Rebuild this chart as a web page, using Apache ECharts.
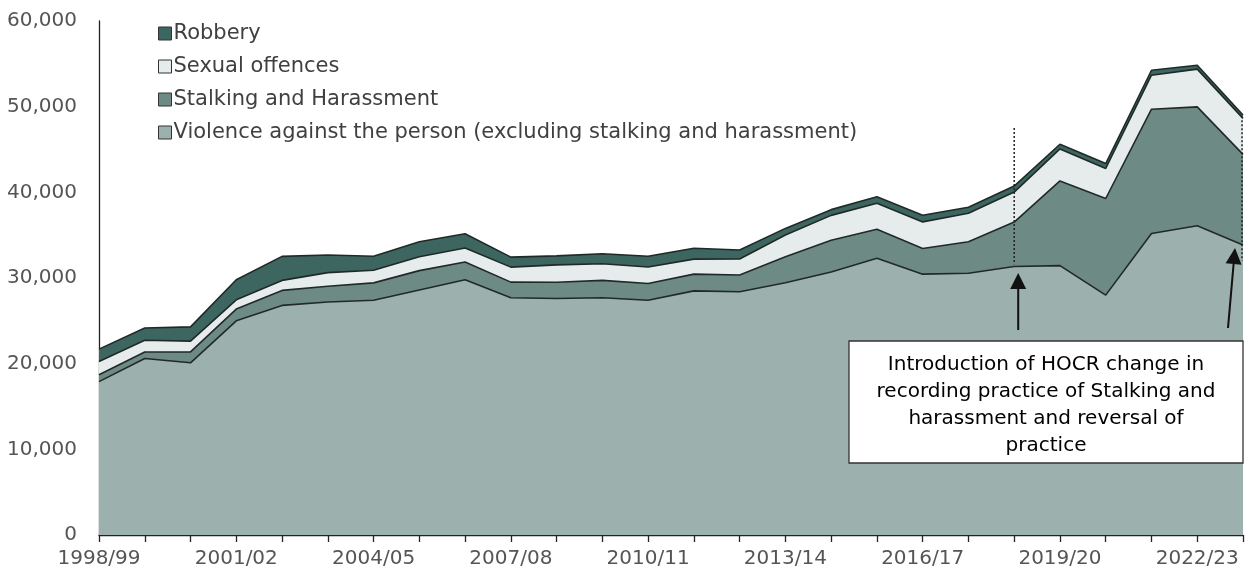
<!DOCTYPE html>
<html>
<head>
<meta charset="utf-8">
<script src="https://cdn.jsdelivr.net/npm/echarts@6/dist/echarts.min.js"></script>
<style>
html,body{margin:0;padding:0;background:#fff;}
#main{width:1249px;height:576px;}
</style>
</head>
<body>
<div id="main"></div>
<script>
var categories = ['1998/99','1999/00','2000/01','2001/02','2002/03','2003/04','2004/05','2005/06','2006/07','2007/08','2008/09','2009/10','2010/11','2011/12','2012/13','2013/14','2014/15','2015/16','2016/17','2017/18','2018/19','2019/20','2020/21','2021/22','2022/23','2023/24'];
var violence = [17900, 20600, 20100, 25000, 26800, 27200, 27400, 28600, 29800, 27700, 27600, 27700, 27400, 28500, 28400, 29450, 30700, 32300, 30450, 30550, 31350, 31450, 28000, 35200, 36100, 33850];
var stalking = [800, 770, 1280, 1370, 1750, 1830, 2030, 2260, 2060, 1820, 1910, 2020, 1950, 1950, 1950, 3030, 3700, 3390, 3000, 3690, 5180, 9880, 11280, 14500, 13880, 10580];
var sexual = [1550, 1370, 1250, 1080, 1170, 1600, 1480, 1630, 1640, 1750, 2020, 1950, 1940, 1750, 1870, 2530, 2910, 3030, 3100, 3310, 3500, 3740, 3500, 3970, 4400, 4200];
var robbery = [1450, 1430, 1670, 2340, 2800, 2050, 1630, 1750, 1670, 1170, 1050, 1160, 1250, 1280, 1050, 780, 670, 770, 780, 700, 700, 540, 580, 580, 450, 390];
var yTicks = [0, 10000, 20000, 30000, 40000, 50000, 60000];
var seriesNames = ['Violence against the person (excluding stalking and harassment)', 'Stalking and Harassment', 'Sexual offences', 'Robbery'];
var legendOrder = ['Robbery', 'Sexual offences', 'Stalking and Harassment', 'Violence against the person (excluding stalking and harassment)'];
var noteText = 'Introduction of HOCR change in\nrecording practice of Stalking and\nharassment and reversal of\npractice';

var colors = ['#9cb0ae', '#6e8a85', '#e6ecec', '#3e6660'];
var FONT = '"DejaVu Sans", "Liberation Sans", Arial, sans-serif';

var chart = echarts.init(document.getElementById('main'), null, {renderer: 'canvas'});

function mkSeries(name, data, color) {
  return {
    name: name,
    type: 'line',
    stack: 'total',
    data: data,
    symbol: 'none',
    smooth: false,
    lineStyle: {color: '#1f2a28', width: 1.6},
    areaStyle: {color: color, opacity: 1},
    itemStyle: {color: color, borderColor: '#2a2a2a', borderWidth: 1},
    emphasis: {disabled: true},
    silent: true
  };
}

var option = {
  animation: false,
  backgroundColor: '#ffffff',
  grid: {left: 99, right: 6, top: 21, bottom: 41, containLabel: false},
  legend: {
    data: legendOrder,
    orient: 'vertical',
    left: 153,
    top: 18,
    itemWidth: 13,
    itemHeight: 13,
    itemGap: 12,
    icon: 'rect',
    textStyle: {fontFamily: FONT, fontSize: 21, color: '#404040', padding: [0, 0, 0, -3]},
    itemStyle: {borderColor: '#333333', borderWidth: 1}
  },
  xAxis: {
    type: 'category',
    data: categories,
    boundaryGap: false,
    axisLine: {lineStyle: {color: '#222222', width: 1.3}},
    axisTick: {show: true, interval: 0, length: 7, inside: false, lineStyle: {color: '#222222', width: 1.3}},
    axisLabel: {interval: 2, fontFamily: FONT, fontSize: 20, color: '#555555', margin: 14},
    splitLine: {show: false}
  },
  yAxis: {
    type: 'value',
    min: yTicks[0],
    max: yTicks[yTicks.length - 1],
    interval: yTicks[1] - yTicks[0],
    axisLine: {show: true, lineStyle: {color: '#222222', width: 1.3}},
    axisTick: {show: false},
    splitLine: {show: false},
    axisLabel: {
      fontFamily: FONT, fontSize: 20, color: '#555555', margin: 22,
      formatter: function (v) { return v.toLocaleString('en-GB'); }
    }
  },
  series: [
    mkSeries(seriesNames[0], violence, colors[0]),
    mkSeries(seriesNames[1], stalking, colors[1]),
    mkSeries(seriesNames[2], sexual, colors[2]),
    mkSeries(seriesNames[3], robbery, colors[3])
  ]
};
chart.setOption(option);

// annotations positioned from the chart's own scales
var p1top = chart.convertToPixel({gridIndex: 0}, [20, 47500]);
var p1bot = chart.convertToPixel({gridIndex: 0}, [20, 31600]);
var p2top = chart.convertToPixel({gridIndex: 0}, [25, 48400]);
var p2bot = chart.convertToPixel({gridIndex: 0}, [25, 32000]);

function arrow(x1, y1, x2, y2) {
  var dx = x2 - x1, dy = y2 - y1;
  var len = Math.sqrt(dx * dx + dy * dy);
  var ux = dx / len, uy = dy / len;
  var hl = 16, hw = 8;
  var bx = x2 - ux * hl, by = y2 - uy * hl;
  var px = -uy, py = ux;
  return [
    {type: 'line', shape: {x1: x1, y1: y1, x2: bx, y2: by}, style: {stroke: '#111', lineWidth: 2}, silent: true, z: 100},
    {type: 'polygon', shape: {points: [[x2, y2], [bx + px * hw, by + py * hw], [bx - px * hw, by - py * hw]]}, style: {fill: '#111'}, silent: true, z: 100}
  ];
}

var graphics = [
  {type: 'line', shape: {x1: p1top[0], y1: p1top[1], x2: p1bot[0], y2: p1bot[1]}, style: {stroke: '#222', lineWidth: 1.5, lineDash: [2, 2]}, silent: true, z: 100},
  {type: 'line', shape: {x1: p2top[0] - 1, y1: p2top[1], x2: p2bot[0] - 1, y2: p2bot[1]}, style: {stroke: '#222', lineWidth: 1.5, lineDash: [2, 2]}, silent: true, z: 100}
];
graphics = graphics.concat(arrow(p1top[0] + 4, 330, p1top[0] + 4, 273));
graphics = graphics.concat(arrow(p2top[0] - 15, 328, p2top[0] - 8, 248));
graphics.push({
  type: 'rect', shape: {x: 849, y: 341, width: 394, height: 122},
  style: {fill: '#ffffff', stroke: '#333333', lineWidth: 1.3}, silent: true, z: 100
});
graphics.push({
  type: 'text', x: 1046, y: 405,
  style: {text: noteText, fill: '#000', font: '20px ' + FONT, textAlign: 'center', textVerticalAlign: 'middle', lineHeight: 27},
  silent: true, z: 101
});
chart.setOption({graphic: graphics});
</script>
</body>
</html>
